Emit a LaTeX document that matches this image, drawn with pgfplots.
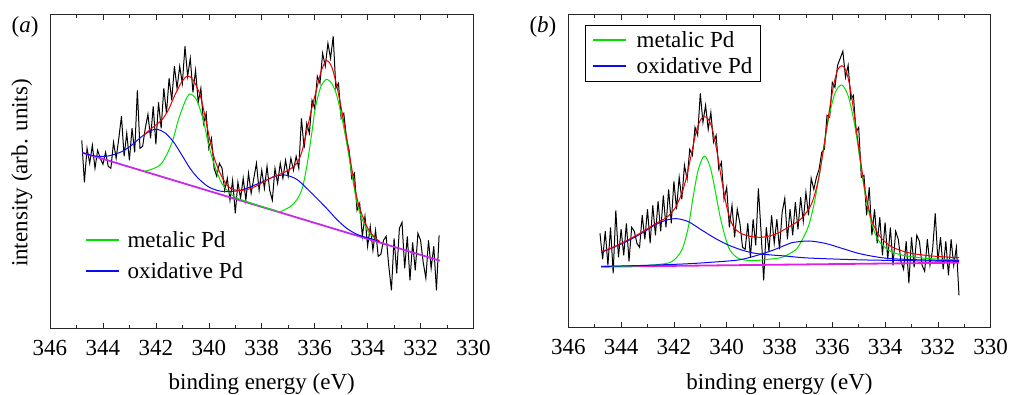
\documentclass[border=0pt]{standalone}
\usepackage{fontspec}
\setmainfont{Liberation Serif}
\usepackage{pgfplots}
\pgfplotsset{compat=1.18}
\usepackage{pgfplotstable}
\definecolor{cgreen}{RGB}{0,225,0}
\definecolor{cblue}{RGB}{10,10,245}
\definecolor{cred}{RGB}{240,0,0}
\definecolor{cmag}{RGB}{200,40,235}
\definecolor{cmagb}{RGB}{225,30,225}

\pgfplotstableread{
E y
344.8 188
344.7 146
344.6 180
344.5 165
344.4 183
344.3 160
344.2 178
344.1 170
344.0 164
343.9 176
343.8 162
343.7 160
343.6 186
343.5 170
343.4 190
343.3 212
343.2 172
343.1 195
343.0 168
342.9 200
342.8 176
342.7 238
342.6 180
342.5 182
342.4 200
342.3 214
342.2 190
342.1 222
342.0 184
341.9 226
341.8 200
341.7 240
341.6 215
341.5 250
341.4 228
341.3 262
341.2 240
341.1 262
341.0 245
340.9 282
340.8 252
340.7 270
340.6 236
340.5 258
340.4 226
340.3 240
340.2 205
340.1 215
340.0 180
339.9 190
339.8 160
339.7 152
339.6 165
339.5 160
339.4 138
339.3 150
339.2 128
339.1 148
339.0 115
338.9 146
338.8 130
338.7 150
338.6 128
338.5 155
338.4 135
338.3 150
338.2 165
338.1 138
338.0 158
337.9 140
337.8 162
337.7 138
337.6 128
337.5 160
337.4 145
337.3 165
337.2 150
337.1 168
337.0 152
336.9 170
336.8 158
336.7 172
336.6 160
336.5 210
336.4 180
336.3 205
336.2 195
336.1 228
336.0 220
335.9 252
335.8 245
335.7 275
335.6 262
335.5 285
335.4 270
335.3 292
335.2 240
335.1 245
335.0 210
334.9 215
334.8 190
334.7 178
334.6 150
334.5 155
334.4 118
334.3 125
334.2 92
334.1 112
334.0 82
333.9 102
333.8 78
333.7 98
333.6 72
333.5 74
333.4 88
333.3 92
333.2 62
333.1 38
333.0 90
332.9 55
332.8 100
332.7 106
332.6 60
332.5 92
332.4 48
332.3 86
332.2 58
332.1 95
332.0 88
331.9 66
331.8 50
331.7 88
331.6 60
331.5 82
331.4 38
331.3 93
}\blacka

\pgfplotstableread{
E y
344.8 94
344.7 68
344.6 96
344.5 62
344.4 100
344.3 54
344.2 117
344.1 70
344.0 98
343.9 72
343.8 104
343.7 66
343.6 100
343.5 96
343.4 84
343.3 80
343.2 112
343.1 88
343.0 118
342.9 84
342.8 122
342.7 92
342.6 126
342.5 96
342.4 132
342.3 100
342.2 138
342.1 104
342.0 146
341.9 118
341.8 150
341.7 128
341.6 162
341.5 148
341.4 178
341.3 172
341.2 200
341.1 192
341.0 234
340.9 205
340.8 222
340.7 198
340.6 215
340.5 185
340.4 192
340.3 158
340.2 165
340.1 128
340.0 140
339.9 100
339.8 122
339.7 90
339.6 118
339.5 104
339.4 80
339.3 78
339.2 104
339.1 70
339.0 108
338.9 82
338.8 139
338.7 96
338.6 47
338.5 100
338.4 76
338.3 112
338.2 84
338.1 108
338.0 78
337.9 115
337.8 129
337.7 88
337.6 118
337.5 92
337.4 125
337.3 98
337.2 130
337.1 106
337.0 135
336.9 112
336.8 149
336.7 138
336.6 150
336.5 158
336.4 175
336.3 178
336.2 212
336.1 210
336.0 245
335.9 240
335.8 262
335.7 269
335.6 276
335.5 250
335.4 262
335.3 228
335.2 232
335.1 195
335.0 200
334.9 150
334.8 152
334.7 112
334.6 140
334.5 92
334.4 118
334.3 84
334.2 110
334.1 72
334.0 105
333.9 68
333.8 100
333.7 62
333.6 96
333.5 88
333.4 66
333.3 58
333.2 86
333.1 44
333.0 90
332.9 60
332.8 92
332.7 86
332.6 62
332.5 56
332.4 88
332.3 62
332.2 78
332.1 114
332.0 66
331.9 90
331.8 58
331.7 86
331.6 52
331.5 88
331.4 62
331.3 80
331.2 32
}\blackb

\pgfplotsset{
  xps/.style={
    scale only axis,
    xmin=330, xmax=346, x dir=reverse,
    xtick={330,332,...,346}, minor x tick num=1,
    ymin=0, ytick=\empty,
    tick align=inside,
    major tick length=5pt, minor tick length=3.5pt,
    axis line style={line width=0.7pt, black!85},
    every tick/.style={line width=0.6pt, black!85},
    /pgf/number format/assume math mode=true,
    /pgf/number format/1000 sep={},
    xticklabel style={font=\rmfamily\fontsize{23}{27}\selectfont, yshift=-8pt},
    legend cell align=left,
  },
  fit/.style={line width=1pt, smooth, forget plot},
}

\begin{document}
\begin{tikzpicture}
\path[use as bounding box] (0,0) rectangle (1010pt,395pt);

% ---------------- panel (a)
\begin{axis}[xps,
  at={(50pt,66.7pt)}, anchor=south west,
  width=423.5pt, height=313.6pt, ymax=313.6,
  minor ytick={28.5,57,85.5,114,142.5,171,199.5,228,256.5,285},
  legend image code/.code={\draw[#1] (0pt,0pt) -- (33pt,0pt);},
  legend style={at={(rel axis cs:0.08,0.315)}, anchor=north west,
    draw=white, line width=0.6pt, fill=white, font=\rmfamily\fontsize{23}{27}\selectfont,
    inner xsep=1pt, inner ysep=1pt, row sep=13pt, column sep=7pt,
    nodes={inner sep=1pt, text height=16pt, text depth=0pt}},
]
\addlegendimage{draw=cgreen, line width=1.4pt}
\addlegendentry{metalic Pd}
\addlegendimage{draw=cblue, line width=1.4pt}
\addlegendentry{oxidative Pd}
\addplot[black, line width=1pt, forget plot] table[x=E,y=y] {\blacka};
\addplot[cmag, line width=1.8pt, forget plot] coordinates {(344.78,175.6) (331.27,67.6)};
\addplot[cgreen, fit] coordinates {
(342.45,157.0) (342.16,159) (341.78,165) (341.40,185) (341.15,208.3) (340.90,226.6)
(340.71,234.3) (340.46,228.3) (340.21,208.3) (340.02,185) (339.77,161.6) (339.51,145)
(339.26,136.6) (339.0,131) (338.6,127) (338.0,121.8) (337.5,118) (337.31,116.6)
(336.93,121.6) (336.68,128.3) (336.49,138.3) (336.37,151.6) (336.24,171.6) (336.11,195)
(335.99,218.3) (335.86,233.3) (335.74,243.3) (335.55,249) (335.36,245) (335.17,233.3)
(334.98,211.6) (334.79,185) (334.60,155) (334.41,126.6) (334.22,110) (333.97,96.6)
(333.72,90) (333.55,86.5)};
\addplot[cblue, fit] coordinates {
(344.78,175.6) (344.30,172.3) (343.80,172.3) (343.29,176.6) (342.91,183.3) (342.54,191.6)
(342.22,197.3) (341.97,199) (341.66,195.6) (341.34,186.6) (341.02,173.3) (340.71,160)
(340.40,150) (340.02,141.6) (339.64,137.6) (339.26,136.6) (338.76,138.3) (338.26,143.3)
(337.75,149) (337.56,151.6) (337.12,153.3) (336.68,149) (336.30,140) (335.92,130)
(335.55,120) (335.17,109) (334.79,100) (334.41,94) (334.04,90.8) (333.72,88.5) (333.55,86.8)};
\addplot[cred, fit] coordinates {
(342.45,193.5) (342.16,200) (341.78,208.3) (341.53,218.3) (341.28,233.3) (341.02,246.6)
(340.80,252.3) (340.59,248.3) (340.33,233.3) (340.14,211.6) (339.96,188.3) (339.77,168.3)
(339.51,151.6) (339.26,141.6) (339.01,138.3) (338.63,138.3) (338.26,141.6) (337.81,148.3)
(337.5,152) (337.0,158) (336.68,165) (336.49,176) (336.30,197) (336.11,220) (335.92,240)
(335.74,258.3) (335.55,267.6) (335.36,261.6) (335.17,243) (334.98,218) (334.79,190)
(334.60,160) (334.41,131) (334.22,114) (333.97,99) (333.72,90.5) (333.55,87)};
\end{axis}

% ---------------- panel (b)
\begin{axis}[xps,
  at={(568.3pt,67.7pt)}, anchor=south west,
  width=422.4pt, height=312.6pt, ymax=312.6,
  minor ytick={26.05,52.1,78.15,104.2,130.25,156.3,182.35,208.4,234.45,260.5,286.55},
  legend image code/.code={\draw[#1] (0pt,0pt) -- (33pt,0pt);},
  legend style={at={(rel axis cs:0.0395,0.968)}, anchor=north west,
    draw=black, line width=0.6pt, fill=white, font=\rmfamily\fontsize{23}{27}\selectfont,
    inner xsep=7pt, inner ysep=6pt, row sep=8pt, column sep=9pt,
    nodes={inner sep=1pt, text height=16pt, text depth=0pt}},
]
\addlegendimage{draw=cgreen, line width=1.4pt}
\addlegendentry{metalic Pd}
\addlegendimage{draw=cblue, line width=1.4pt}
\addlegendentry{oxidative Pd}
\addplot[black, line width=1pt, forget plot] table[x=E,y=y] {\blackb};
\addplot[cmagb, line width=1.8pt, forget plot] coordinates {(344.76,60.6) (331.2,64.6)};
\addplot[cgreen, fit] coordinates {
(344.76,60.7) (343.5,61.3) (342.6,62.8) (342.08,65.6) (341.70,77.3) (341.45,100.6)
(341.27,130.6) (341.08,157.3) (340.85,171.3) (340.63,160.6) (340.44,137.3) (340.25,110.6)
(340.06,90.6) (339.88,77.3) (339.56,69) (339.05,66.6) (338.42,68) (337.9,70)
(337.5,75.5) (337.29,80.6) (336.91,100.6) (336.66,127.3) (336.40,167.3) (336.15,207.3)
(335.90,234) (335.64,242.3) (335.39,230.6) (335.14,200.6) (334.95,167.3) (334.76,134)
(334.51,104) (334.26,87.3) (333.88,77.3) (333.37,72.3) (332.49,69) (331.2,67.3)};
\addplot[cblue, fit] coordinates {
(344.74,75) (344.23,80.6) (343.73,86.6) (343.22,94) (342.72,102.3) (342.27,107.3)
(341.89,108.6) (341.45,105.6) (340.95,97.3) (340.44,89) (339.94,82.3) (339.43,77.3)
(338.93,74) (338.30,72.3) (337.79,71.3) (336.91,69.3) (335.02,67.5) (333.0,66.6) (331.2,66)};
\addplot[cblue, fit] coordinates {
(344.76,60.8) (343.0,62) (341.5,63.5) (340.5,65.2) (339.56,67.3) (338.93,71.3)
(338.30,76.6) (337.79,82) (337.54,84.6) (336.91,86.3) (336.28,84) (335.64,79)
(335.02,74) (334.38,70.6) (333.75,68.6) (332.49,67.3) (331.2,66.6)};
\addplot[cred, fit] coordinates {
(344.76,75.5) (344.23,81) (343.73,87.6) (343.22,95) (342.72,103.3) (342.27,110)
(341.96,119) (341.70,134) (341.52,150.6) (341.33,174) (341.14,197.3) (340.95,209)
(340.76,210) (340.57,200.6) (340.38,177.3) (340.19,147.3) (340.0,120.6) (339.81,104)
(339.56,95.6) (339.18,91.3) (338.67,90) (338.17,93) (337.67,100) (337.16,109)
(336.78,124) (336.53,147.3) (336.34,177.3) (336.15,210.6) (335.96,240.6) (335.80,257.3)
(335.64,261.6) (335.49,257.3) (335.33,240.6) (335.14,207.3) (334.95,170.6) (334.76,137.3)
(334.51,107.3) (334.19,90.6) (333.75,80.6) (333.12,74.6) (332.24,71.3) (331.2,69.6)};
\end{axis}

% ---------------- labels
\node[anchor=base, font=\rmfamily\fontsize{23}{27}\selectfont] at (261.75pt,5pt) {binding energy (eV)};
\node[anchor=base, font=\rmfamily\fontsize{23}{27}\selectfont] at (779.5pt,5pt) {binding energy (eV)};
\node[anchor=base, rotate=90, font=\rmfamily\fontsize{23}{27}\selectfont] at (27.5pt,222pt) {intensity (arb. units)};
\node[anchor=base west, inner sep=0pt, font=\rmfamily\fontsize{23}{27}\selectfont] at (11.5pt,362pt) {(\textit{a})};
\node[anchor=base west, inner sep=0pt, font=\rmfamily\fontsize{23}{27}\selectfont] at (529.3pt,362pt) {(\textit{b})};
\end{tikzpicture}
\end{document}
